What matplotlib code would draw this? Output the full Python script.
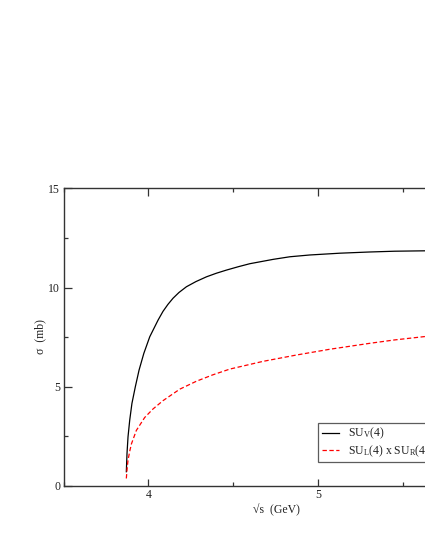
import matplotlib
matplotlib.use("Agg")
import matplotlib.pyplot as plt
from matplotlib.ticker import MultipleLocator

plt.rcParams['font.family'] = ['Liberation Serif', 'DejaVu Serif']
plt.rcParams['mathtext.fontset'] = 'custom'
plt.rcParams['mathtext.rm'] = 'Liberation Serif'
plt.rcParams['mathtext.it'] = 'Liberation Serif:italic'

# Data
sqrt_s_v = [3.870, 3.874, 3.880, 3.890, 3.903, 3.923, 3.945, 3.973, 4.008, 4.057,
            4.086, 4.115, 4.145, 4.180, 4.224, 4.280, 4.342, 4.400, 4.460, 4.530,
            4.597, 4.735, 4.833, 4.950, 5.127, 5.300, 5.450, 5.628, 5.800]
sigma_v = [0.72, 1.64, 2.48, 3.32, 4.16, 5.00, 5.84, 6.68, 7.52, 8.36,
           8.80, 9.15, 9.46, 9.75, 10.04, 10.30, 10.54, 10.72, 10.88, 11.05,
           11.20, 11.42, 11.55, 11.64, 11.73, 11.79, 11.83, 11.85, 11.87]

sqrt_s_lr = [3.870, 3.875, 3.880, 3.890, 3.900, 3.929, 3.978, 4.027, 4.086, 4.185,
             4.283, 4.379, 4.479, 4.675, 4.872, 5.068, 5.304, 5.450, 5.628, 5.800]
sigma_lr = [0.38, 0.90, 1.30, 1.75, 2.12, 2.80, 3.45, 3.88, 4.30, 4.88,
            5.28, 5.60, 5.89, 6.28, 6.60, 6.89, 7.19, 7.36, 7.53, 7.68]

label_v = r'SU$_{\rm V}$(4)'
label_lr = r'SU$_{\rm L}$(4) x SU$_{\rm R}$(4)'

FS = 8.5
W, H = 425, 550
fig = plt.figure(figsize=(W / 100, H / 100), dpi=100)
left, right, top, bottom = 63.5, 488.0, 188.3, 486.0
ax = fig.add_axes([left / W, (H - bottom) / H, (right - left) / W, (bottom - top) / H])

ax.plot(sqrt_s_v, sigma_v, color='black', lw=0.9, label=label_v)
ax.plot(sqrt_s_lr, sigma_lr, color='red', lw=0.9, ls=(0, (3.5, 2.0)), label=label_lr)

ax.set_xlim(3.5, 6.0)
ax.set_ylim(0, 15)
ax.xaxis.set_major_locator(MultipleLocator(1))
ax.xaxis.set_minor_locator(MultipleLocator(0.5))
ax.yaxis.set_major_locator(MultipleLocator(5))
ax.yaxis.set_minor_locator(MultipleLocator(2.5))
ax.tick_params(which='both', direction='in', top=True, right=True, labelsize=FS,
               width=0.9, colors='#333333', labelcolor='#222222')
ax.tick_params(which='major', length=5.4, pad=2.5)
ax.tick_params(which='minor', length=3.0)
for s in ax.spines.values():
    s.set_linewidth(1.0)
    s.set_color('#333333')

fig.text(40 / W, (H - 337) / H, 'σ  (mb)', rotation=90, ha='center', va='center',
         fontsize=FS, color='#222222')
fig.text(276.7 / W, (H - 510) / H, '√s  (GeV)', ha='center', va='center',
         fontsize=FS, color='#222222')

leg = ax.legend(loc='upper left', bbox_to_anchor=(318.3 / W, (H - 422.5) / H),
                bbox_transform=fig.transFigure, borderaxespad=0, fontsize=FS,
                fancybox=False, frameon=True, handlelength=1.45, handletextpad=0.75,
                borderpad=0.3, labelspacing=0.15)
leg.get_frame().set_edgecolor('#333333')
leg.get_frame().set_linewidth(0.9)
for t in leg.get_texts():
    t.set_color('#222222')

fig.savefig('out.png', dpi=100)
